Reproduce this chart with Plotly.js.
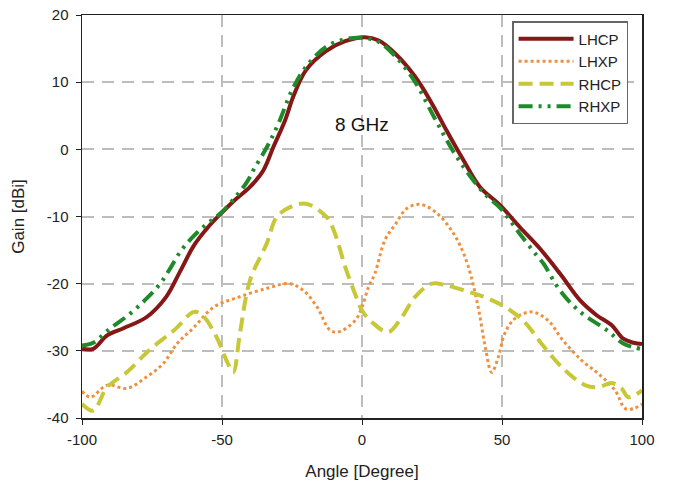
<!DOCTYPE html>
<html>
<head>
<meta charset="utf-8">
<script src="https://cdn.plot.ly/plotly-3.0.1.min.js"></script>
<style>html,body{margin:0;padding:0;background:#fff;}#chart{width:675px;height:488px;}</style>
</head>
<body>
<div id="chart"></div>
<script>
var lhcpX = [-100,-96,-91,-85,-77,-70,-65,-60,-55,-50,-45,-40,-35.2,-31.7,-27.5,-24.5,-20,-13,-6,1,6,12,19,25,30.2,36.2,42.1,49.3,56.4,63.6,70.7,77.9,83.8,89.2,93.3,97,100];
var lhcpY = [-29.7,-29.7,-27.7,-26.6,-25,-22,-18.2,-14.3,-11.6,-9.4,-7.4,-5.6,-3.1,0.3,4.3,7.9,11.8,14.6,16.1,16.7,16.2,14.2,10.8,6.8,2.8,-1.6,-5.6,-8.3,-11.6,-14.8,-18.5,-22.5,-24.7,-26.2,-28.2,-28.8,-29.0];

var lhxpX = [-100,-97,-91,-84,-77,-71,-66,-60,-53,-44,-34,-26,-21,-16,-11.5,-8.5,-2.5,0,2.3,4.6,8.2,12,16,21,27,32,35,38,41.5,44,46.3,48.7,51,54.6,60.6,66.5,71.3,78.4,84.4,90.4,94,97,100];
var lhxpY = [-36,-36.9,-35.1,-35.6,-33.9,-31.9,-28.9,-26.5,-23.5,-22,-20.7,-20,-21,-23.5,-26.9,-27.2,-25.5,-23.5,-20.5,-18.5,-13.5,-11.1,-8.8,-8.2,-9.6,-12.1,-14.3,-17.5,-23.5,-29.4,-33.2,-30.9,-27.4,-25.2,-24.2,-25.5,-28.2,-31.4,-33.4,-35.9,-38.6,-38.6,-37.9];

var rhcpX = [-100,-96,-91,-84,-76,-67,-60,-57,-52,-48,-46,-43.6,-40,-34,-30.5,-25.7,-20,-12.6,-9.6,-6,-2.5,0,3.5,9.4,14.2,18.9,24.9,29.6,38,45,52,58,65,72.5,79.6,84.4,89.2,92.7,95.1,100];
var rhcpY = [-37.9,-38.9,-35.4,-33.2,-29.9,-26.9,-24.2,-24.7,-27.9,-31.8,-33.2,-27.4,-19.5,-14,-10.1,-8.6,-8.1,-10.1,-12.6,-17.5,-21.5,-24,-25.7,-27.2,-25,-22,-20,-20.2,-21.2,-22.2,-23.7,-25.7,-29.4,-32.9,-35.1,-35.4,-34.8,-35.6,-36.9,-35.9];

var rhxpX = [-100,-96,-90,-82.9,-76.9,-72.1,-68.6,-65,-61,-56,-50.7,-45,-41,-38.8,-34,-29.9,-25,-20,-13,-6,0,6,12,19,26,33.8,43.3,49.5,56.4,62.4,64.8,70.7,77.9,87.4,93.3,99.3];
var rhxpY = [-29.2,-28.8,-26.7,-24.5,-22.2,-20,-17.8,-15.3,-13.3,-11.3,-9.6,-7.0,-4.8,-3.1,0.3,3.8,8.8,12.3,15.2,16.4,16.6,16.0,13.8,10.0,4.6,-1.1,-6.4,-8.8,-12.6,-15.8,-17,-21,-24.2,-26.9,-28.9,-29.7];

var xTicks = [-100,-50,0,50,100];
var yTicks = [-40,-30,-20,-10,0,10,20];

var traces = [
  {x: lhcpX, y: lhcpY, name: 'LHCP', mode: 'lines', line: {color: '#861717', width: 4, shape: 'spline', smoothing: 1}},
  {x: lhxpX, y: lhxpY, name: 'LHXP', mode: 'lines', line: {color: '#f0903c', width: 3, dash: 'dot', shape: 'spline', smoothing: 1}},
  {x: rhcpX, y: rhcpY, name: 'RHCP', mode: 'lines', line: {color: '#c6c838', width: 4, dash: '14px,7px', shape: 'spline', smoothing: 1}},
  {x: rhxpX, y: rhxpY, name: 'RHXP', mode: 'lines', line: {color: '#1f8a2a', width: 4, dash: '14px,6px,3px,6px,3px,6px', shape: 'spline', smoothing: 1}}
];

var layout = {
  width: 675, height: 488,
  margin: {l: 82, r: 33, t: 15, b: 70},
  paper_bgcolor: '#ffffff', plot_bgcolor: '#ffffff',
  font: {family: 'Liberation Sans, Arial, sans-serif', color: '#222', size: 14},
  showlegend: true,
  legend: {x: 0.768, y: 0.985, xanchor: 'left', yanchor: 'top', bordercolor: '#666', borderwidth: 1.5, bgcolor: '#fff', font: {size: 15, color: '#222'}, tracegroupgap: 0, itemwidth: 55},
  xaxis: {
    range: [-100, 100], tickvals: xTicks, ticktext: xTicks.map(String),
    showgrid: true, gridcolor: '#bdbdbd', gridwidth: 2, griddash: '12px,8px',
    zeroline: false, showline: true, linecolor: '#222', linewidth: 1.5, mirror: true,
    ticks: 'outside', ticklen: 5, tickcolor: '#222', ticklabelstandoff: 2,
    tickfont: {size: 15},
    title: {text: 'Angle [Degree]', font: {size: 17}, standoff: 18}
  },
  yaxis: {
    range: [-40, 20], tickvals: yTicks, ticktext: yTicks.map(String),
    showgrid: true, gridcolor: '#bdbdbd', gridwidth: 2, griddash: '12px,8px',
    zeroline: false, showline: true, linecolor: '#222', linewidth: 1.5, mirror: true,
    ticks: 'outside', ticklen: 5, tickcolor: '#222', ticklabelstandoff: 4,
    tickfont: {size: 15},
    title: {text: 'Gain [dBi]', font: {size: 17}, standoff: 18}
  },
  annotations: [{x: 0, y: 3.7, xref: 'x', yref: 'y', text: '8 GHz', showarrow: false, font: {size: 19, color: '#111'}}]
};

Plotly.newPlot('chart', traces, layout, {displayModeBar: false, staticPlot: true});
</script>
</body>
</html>
